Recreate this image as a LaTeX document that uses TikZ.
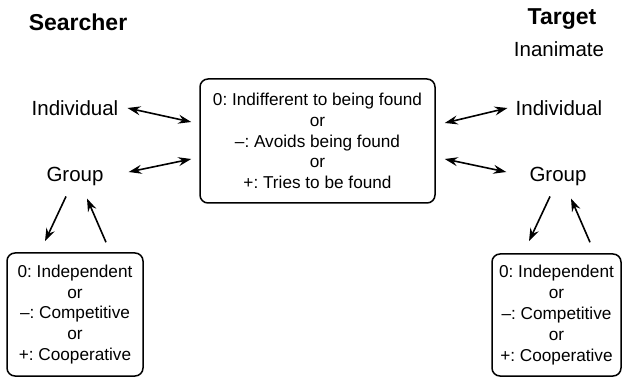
\documentclass[tikz,border=0pt]{standalone}
\usepackage{fontspec}
\setmainfont{Liberation Sans}
\frenchspacing
\usetikzlibrary{arrows.meta}
\tikzset{>={Stealth[length=13pt,width=9pt,inset=4.5pt]}}
\tikzset{
    label/.style={font=\fontsize{20.5}{24}\selectfont, inner sep=0pt},
    title/.style={font=\fontsize{23}{27}\selectfont\bfseries, inner sep=0pt},
    choice/.style={draw, line width=1.5pt, rounded corners=8pt, align=center,
        font=\fontsize{17.2}{20.8}\selectfont, inner sep=0pt},
    link/.style={<->, line width=1.6pt},
    oneway/.style={->, line width=1.6pt}
}
\begin{document}
\begin{tikzpicture}[x=1pt,y=-1pt]
    \useasboundingbox (0,0) rectangle (622,377);
    %titles
    \node[title] (searcher) at (78,22) {Searcher};
    \node[title] (target) at (562,19) {Target};
    \node[label] (inanimate) at (559,49) {Inanimate};
    %searcher side
    \node[label] (indl) at (75,108) {Individual};
    \node[label] (grpl) at (75,176) {Group};
    %target side
    \node[label] (indr) at (559,108) {Individual};
    \node[label] (grpr) at (558,176) {Group};
    %boxes
    \node[choice, minimum width=235pt, minimum height=124pt] (found) at (317.5,141)
        {0: Indifferent to being found\\or\\--: Avoids being found\\or\\+: Tries to be found};
    \node[choice, minimum width=136pt, minimum height=123pt] (model) at (75,314.5)
        {0: Independent\\or\\--: Competitive\\or\\+: Cooperative};
    \node[choice, minimum width=129pt, minimum height=122pt] (moder) at (556.5,315)
        {0: Independent\\or\\--: Competitive\\or\\+: Cooperative};
    %arrows to the middle box
    \draw[link] ([xshift=9pt]indl.east) -- ([xshift=-8pt,yshift=19pt]found.west);
    \draw[link] ([xshift=25pt,yshift=4pt]grpl.east) -- ([xshift=-8pt,yshift=-18pt]found.west);
    \draw[link] ([xshift=9pt,yshift=18pt]found.east) -- ([xshift=-8pt]indr.west);
    \draw[link] ([xshift=9pt,yshift=-18pt]found.east) -- ([xshift=-23pt,yshift=4pt]grpr.west);
    %arrows to the lower boxes
    \draw[oneway] ([xshift=-9pt,yshift=-11pt]grpl.south) -- ([xshift=-30pt,yshift=11pt]model.north);
    \draw[oneway] ([xshift=31pt,yshift=10pt]model.north) -- ([xshift=12pt,yshift=-13pt]grpl.south);
    \draw[oneway] ([xshift=-8pt,yshift=-11pt]grpr.south) -- ([xshift=-27.5pt,yshift=12pt]moder.north);
    \draw[oneway] ([xshift=33.5pt,yshift=11pt]moder.north) -- ([xshift=13pt,yshift=-13pt]grpr.south);
\end{tikzpicture}
\end{document}
